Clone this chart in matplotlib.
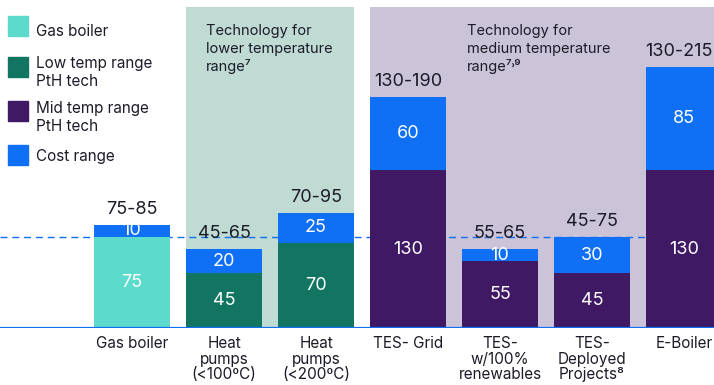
import matplotlib
matplotlib.use("Agg")
import matplotlib.pyplot as plt
from matplotlib.patches import Rectangle

plt.rcParams['font.family'] = ['Inter', 'DejaVu Sans']

# data
categories = ["Gas boiler", "Heat\npumps\n(<100ºC)", "Heat\npumps\n(<200ºC)", "TES- Grid",
              "TES-\nw/100%\nrenewables", "TES-\nDeployed\nProjects⁸", "E-Boiler"]
base_values = [75, 45, 70, 130, 55, 45, 130]
cost_values = [10, 20, 25, 60, 10, 30, 85]
range_labels = ["75-85", "45-65", "70-95", "130-190", "55-65", "45-75", "130-215"]
base_kind = ["gas", "low", "low", "mid", "mid", "mid", "mid"]
reference_level = 75

colors = {"gas": "#5cdacb", "low": "#117562", "mid": "#3f1964", "cost": "#0f6ff5"}
panel_low = "#bfdbd4"
panel_mid = "#cbc3d7"
txt = "#1c1c28"

fig = plt.figure(figsize=(7.14, 3.85), dpi=100)
ax = fig.add_axes([0, 57 / 385, 1, 328 / 385])
ax.set_xlim(-1.435, 6.326)
ax.set_ylim(0, 270)
ax.axis("off")

x = list(range(len(categories)))
w = 0.83

# background panels
ax.add_patch(Rectangle((1 - w / 2, 0), 1 + w, 264, color=panel_low, zorder=0, lw=0))
ax.add_patch(Rectangle((3 - w / 2, 0), 10, 264, color=panel_mid, zorder=0, lw=0))
ax.text(1 - w / 2 + 0.22, 250, "Technology for\nlower temperature\nrange⁷", fontsize=10.5,
        color=txt, va="top", ha="left", linespacing=1.3)
ax.text(4 - w / 2 + 0.06, 250, "Technology for\nmedium temperature\nrange⁷˒⁹", fontsize=10.5,
        color=txt, va="top", ha="left", linespacing=1.3)

base_cols = [colors[k] for k in base_kind]
ax.bar(x, base_values, width=w, color=base_cols, zorder=2)
ax.bar(x, cost_values, bottom=base_values, width=w, color=colors["cost"], zorder=2)

for i in x:
    b, c = base_values[i], cost_values[i]
    ax.text(i, b / 2, str(b), ha="center", va="center", color="white", fontsize=13, zorder=3)
    ax.text(i, b + c / 2, str(c), ha="center", va="center", color="white", fontsize=13, zorder=3)
    # last label sits at the right edge, nudge it in so it is not cut
    dx = -4 if i == x[-1] else 0
    ax.annotate(range_labels[i], (i, b + c), xytext=(dx, 5), textcoords="offset points",
                ha="center", va="bottom", fontsize=13, color=txt, zorder=3)
    ax.annotate(categories[i], (i, 0), xytext=(0, -6), textcoords="offset points",
                ha="center", va="top", fontsize=11, color=txt, linespacing=1.02,
                annotation_clip=False)

ax.axhline(reference_level, color=colors["cost"], lw=1, ls=(0, (5, 3.5)), zorder=1)
ax.axhline(0, color=colors["cost"], lw=1.6, zorder=4)

# legend: (label lines, colour, square top px, first baseline px)
legend_items = [(["Gas boiler"], colors["gas"], 16, 36),
                (["Low temp range", "PtH tech"], colors["low"], 57, 68),
                (["Mid temp range", "PtH tech"], colors["mid"], 101, 113),
                (["Cost range"], colors["cost"], 145, 161)]
for lines, col, top, base in legend_items:
    fig.patches.append(Rectangle((8 / 714, 1 - (top + 20) / 385), 20 / 714, 20 / 385,
                                 color=col, transform=fig.transFigure))
    for k, line in enumerate(lines):
        fig.text(36 / 714, 1 - (base + 18 * k) / 385, line, fontsize=11, color=txt,
                 va="baseline", ha="left")

fig.savefig("out.png", dpi=100)
